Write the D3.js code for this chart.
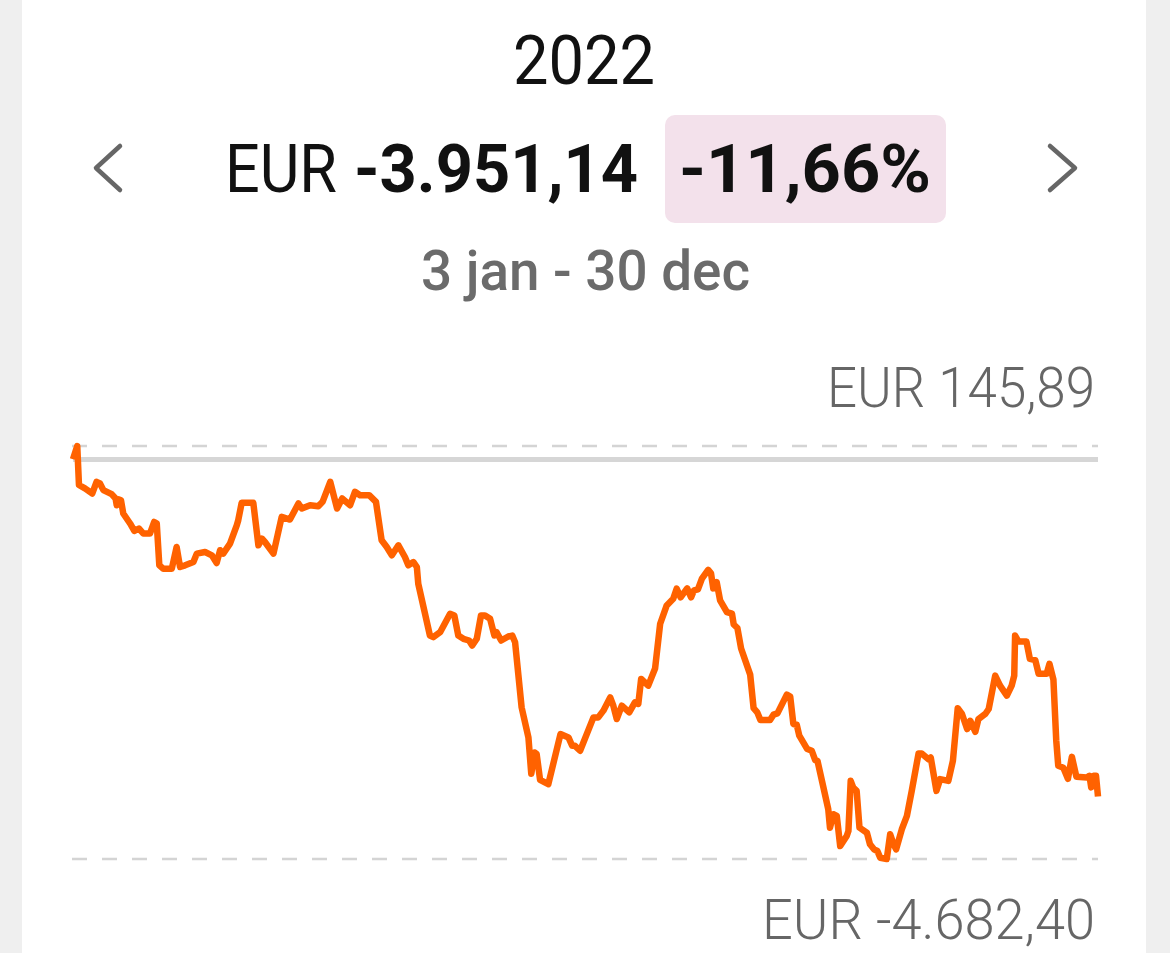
<!DOCTYPE html>
<html>
<head>
<meta charset="utf-8">
<script src="https://cdn.jsdelivr.net/npm/d3@7"></script>
<style>
  html, body { margin: 0; padding: 0; background: #efefef; }
  svg { display: block; }
</style>
</head>
<body>
<svg id="chart" width="1170" height="953"></svg>
<script>
// ---- Data ----
const yearLabel = "2022";
const periodLabel = "3 jan - 30 dec";
const currency = "EUR";
const totalChange = -3951.14;
const percentChange = -11.66;

// day of year 2022 (3 = 3 jan, 364 = 30 dec)
const days = [3.0,4.5,5.1,7.2,9.8,11.3,12.5,13.7,16.6,18.0,
  18.4,19.2,19.9,20.7,23.1,24.6,26.2,27.8,30.1,31.6,
  32.5,33.4,34.8,37.8,39.5,40.7,42.5,45.4,46.6,49.5,
  51.9,53.6,54.8,55.9,58.3,60.7,61.2,62.4,66.5,68.3,
  69.5,70.6,73.6,76.5,79.4,82.4,83.6,86.5,89.4,90.9,
  93.6,96.0,97.8,100.6,102.3,104.1,107.3,109.7,111.7,113.5,
  115.3,117.6,119.9,121.1,122.9,124.1,124.6,128.7,129.9,132.3,
  135.8,137.3,138.7,140.5,142.5,143.6,145.2,146.7,148.1,149.9,
  151.4,152.2,153.8,156.3,157.7,158.7,161.0,163.4,164.4,165.6,
  166.3,167.5,170.4,174.7,177.5,178.8,179.8,181.6,186.3,188.0,
  189.8,192.2,193.3,194.5,196.3,198.9,200.9,202.1,203.1,205.6,
  208.0,209.8,212.1,214.4,215.6,217.0,219.3,220.7,221.7,223.1,
  224.5,226.7,227.7,228.5,229.7,230.9,233.3,235.1,235.7,237.0,
  238.3,241.5,242.7,244.0,245.1,248.5,249.7,251.1,254.4,255.6,
  256.7,257.9,258.8,261.6,263.2,264.4,265.2,267.3,269.0,269.6,
  270.8,272.0,273.2,275.5,276.1,276.9,277.8,279.0,280.0,282.6,
  283.7,285.1,286.3,287.3,289.6,290.8,292.0,292.9,294.9,296.7,
  298.4,300.8,301.9,304.3,305.1,307.1,308.4,311.3,312.9,314.6,
  316.1,317.9,319.0,320.8,321.9,324.3,325.5,327.8,329.5,331.9,
  333.6,334.5,334.8,336.0,338.8,340.0,341.9,343.1,345.9,346.9,
  348.3,349.3,350.0,351.8,353.4,354.8,356.4,360.1,361.0,361.6,
  362.4,363.3,364];

// result in EUR
const values = [-10,145.89,-310,-350,-409,-273,-292,-370,-417,-468,
  -546,-479,-488,-643,-760,-847,-819,-878,-878,-742,
  -761,-1249,-1288,-1288,-1035,-1269,-1249,-1211,-1112,-1093,
  -1132,-1222,-1073,-1112,-995,-780,-722,-519,-519,-1015,
  -936,-976,-1112,-683,-714,-526,-585,-546,-558,-507,
  -273,-585,-468,-546,-390,-429,-429,-507,-956,-1035,
  -1132,-1015,-1152,-1249,-1211,-1269,-1464,-2070,-2089,-2031,
  -1815,-1835,-2070,-2108,-2128,-2187,-2108,-1835,-1835,-1874,
  -2070,-2031,-2128,-2081,-2070,-2148,-2910,-3261,-3687,-3437,
  -3456,-3757,-3808,-3222,-3261,-3359,-3359,-3417,-3027,-3027,
  -2948,-2793,-2890,-3046,-2890,-2968,-2851,-2870,-2577,-2656,
  -2456,-1932,-1718,-1640,-1522,-1624,-1519,-1624,-1542,-1530,
  -1405,-1302,-1343,-1519,-1445,-1659,-1797,-1815,-1941,-1982,
  -2222,-2527,-2919,-2968,-3058,-3058,-2995,-2980,-2761,-2784,
  -3104,-3113,-3241,-3397,-3417,-3526,-3534,-3847,-4100,-4316,
  -4159,-4179,-4531,-4413,-4355,-3769,-3847,-3886,-4316,-4375,
  -4511,-4569,-4589,-4668,-4682.40,-4393,-4511,-4569,-4335,-4179,
  -3886,-3449,-3449,-3515,-3496,-3886,-3749,-3769,-3534,-2919,
  -2987,-3163,-3066,-3195,-3046,-2987,-2929,-2538,-2655,-2773,
  -2655,-2538,-2070,-2140,-2140,-2343,-2357,-2518,-2518,-2401,
  -2585,-3300,-3593,-3616,-3745,-3488,-3722,-3730,-3710,-3845,
  -3710,-3710,-3951.14];

// ---- Rendering ----
const W = 1170, H = 953;
const svg = d3.select("#chart");
const FONT = "Roboto, 'Open Sans', 'Liberation Sans', sans-serif";

const nl = d3.formatLocale({decimal: ",", thousands: ".", grouping: [3], currency: ["", ""], minus: "-"});
const fmt = nl.format(",.2f");

// card
svg.append("rect").attr("x", 22).attr("y", 0).attr("width", 1124).attr("height", H).attr("fill", "#ffffff");

const data = days.map((d, i) => ({day: d, value: values[i]}));
const [vMin, vMax] = d3.extent(values);

const x = d3.scaleLinear().domain([3, 364]).range([73, 1098]);
const y = d3.scaleLinear().domain([vMin, vMax]).range([859, 446]);

// header
svg.append("text").attr("x", 513).attr("y", 84)
  .attr("font-family", FONT).attr("font-size", 68).attr("fill", "#111")
  .attr("textLength", 142).attr("lengthAdjust", "spacingAndGlyphs")
  .text(yearLabel);

// pink badge
svg.append("rect").attr("x", 665).attr("y", 115).attr("width", 281).attr("height", 108)
  .attr("rx", 10).attr("fill", "#f3e1eb");

svg.append("text").attr("x", 225).attr("y", 192)
  .attr("font-family", FONT).attr("font-size", 66).attr("fill", "#111")
  .attr("textLength", 112).attr("lengthAdjust", "spacingAndGlyphs")
  .text(currency);
svg.append("text").attr("x", 354).attr("y", 192)
  .attr("font-family", FONT).attr("font-size", 66).attr("font-weight", 700).attr("fill", "#111")
  .attr("textLength", 284).attr("lengthAdjust", "spacingAndGlyphs")
  .text(fmt(totalChange));
svg.append("text").attr("x", 679).attr("y", 192)
  .attr("font-family", FONT).attr("font-size", 66).attr("font-weight", 700).attr("fill", "#111")
  .attr("textLength", 252).attr("lengthAdjust", "spacingAndGlyphs")
  .text(fmt(percentChange) + "%");

// chevrons
svg.append("path").attr("d", "M120,146 L96,168 L120,190")
  .attr("fill", "none").attr("stroke", "#666").attr("stroke-width", 4.5).attr("stroke-linecap", "round").attr("stroke-linejoin", "round");
svg.append("path").attr("d", "M1050,146 L1075,168 L1050,190")
  .attr("fill", "none").attr("stroke", "#666").attr("stroke-width", 4.5).attr("stroke-linecap", "round").attr("stroke-linejoin", "round");

svg.append("text").attr("x", 421).attr("y", 290)
  .attr("font-family", FONT).attr("font-size", 56).attr("font-weight", 500).attr("fill", "#6b6b6b")
  .attr("textLength", 329).attr("lengthAdjust", "spacingAndGlyphs")
  .text(periodLabel);

// max / min labels
svg.append("text").attr("x", 1095).attr("y", y(vMax) - 39)
  .attr("text-anchor", "end")
  .attr("font-family", FONT).attr("font-size", 55).attr("font-weight", 300).attr("fill", "#666")
  .attr("textLength", 268).attr("lengthAdjust", "spacingAndGlyphs")
  .text(currency + " " + fmt(vMax));
svg.append("text").attr("x", 1095).attr("y", y(vMin) + 80)
  .attr("text-anchor", "end")
  .attr("font-family", FONT).attr("font-size", 55).attr("font-weight", 300).attr("fill", "#666")
  .attr("textLength", 333).attr("lengthAdjust", "spacingAndGlyphs")
  .text(currency + " " + fmt(vMin));

// reference lines
[vMax, vMin].forEach(v => {
  svg.append("line")
    .attr("x1", x(3) - 1).attr("x2", x(364))
    .attr("y1", y(v)).attr("y2", y(v))
    .attr("stroke", "#d4d4d4").attr("stroke-width", 2.4)
    .attr("stroke-dasharray", "15 15");
});
svg.append("line")
  .attr("x1", x(3)).attr("x2", x(364))
  .attr("y1", y(0) + 1).attr("y2", y(0) + 1)
  .attr("stroke", "#d6d6d6").attr("stroke-width", 5);

// series line
const line = d3.line().x(d => x(d.day)).y(d => y(d.value)).curve(d3.curveLinear);
svg.append("path").datum(data)
  .attr("d", line)
  .attr("fill", "none")
  .attr("stroke", "#ff6200")
  .attr("stroke-width", 6.5)
  .attr("stroke-linejoin", "round")
  .attr("stroke-linecap", "butt");
</script>
</body>
</html>
